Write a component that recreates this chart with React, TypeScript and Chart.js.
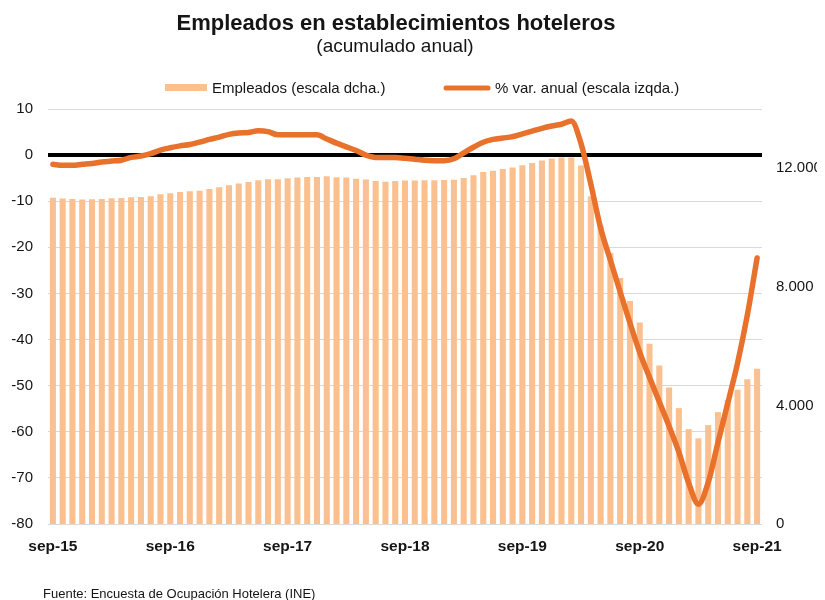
import React, { useEffect, useRef } from "react";
import { Chart, registerables } from "chart.js";

Chart.register(...registerables);

const FONT = "'Liberation Sans', Arial, Helvetica, sans-serif";

const TITLE = "Empleados en establecimientos hoteleros";
const SUBTITLE = "(acumulado anual)";
const LEGEND_BARS = "Empleados (escala dcha.)";
const LEGEND_LINE = "% var. anual (escala izqda.)";
const SOURCE = "Fuente: Encuesta de Ocupación Hotelera (INE)";

const MONTHS = [
  "sep-15", "oct-15", "nov-15", "dic-15",
  "ene-16", "feb-16", "mar-16", "abr-16", "may-16", "jun-16", "jul-16", "ago-16", "sep-16", "oct-16", "nov-16", "dic-16",
  "ene-17", "feb-17", "mar-17", "abr-17", "may-17", "jun-17", "jul-17", "ago-17", "sep-17", "oct-17", "nov-17", "dic-17",
  "ene-18", "feb-18", "mar-18", "abr-18", "may-18", "jun-18", "jul-18", "ago-18", "sep-18", "oct-18", "nov-18", "dic-18",
  "ene-19", "feb-19", "mar-19", "abr-19", "may-19", "jun-19", "jul-19", "ago-19", "sep-19", "oct-19", "nov-19", "dic-19",
  "ene-20", "feb-20", "mar-20", "abr-20", "may-20", "jun-20", "jul-20", "ago-20", "sep-20", "oct-20", "nov-20", "dic-20",
  "ene-21", "feb-21", "mar-21", "abr-21", "may-21", "jun-21", "jul-21", "ago-21", "sep-21",
];

// Empleados (escala dcha.)
const EMPLEADOS = [
  11010, 10980, 10960, 10945, 10955, 10965, 10990, 11000, 11020, 11030, 11055, 11120,
  11155, 11200, 11225, 11245, 11300, 11360, 11425, 11485, 11535, 11595, 11630, 11630,
  11660, 11685, 11705, 11705, 11730, 11695, 11685, 11650, 11620, 11570, 11550, 11570,
  11585, 11585, 11595, 11595, 11605, 11615, 11670, 11765, 11875, 11920, 11975, 12030,
  12100, 12175, 12260, 12330, 12360, 12360, 12090, 11055, 10050, 9145, 8300, 7520,
  6800, 6080, 5350, 4605, 3910, 3200, 2890, 3335, 3775, 4180, 4525, 4885,
  5235,
];

// % var. anual (escala izqda.)
const VAR_ANUAL = [
  -2.0, -2.2, -2.2, -2.0, -1.8, -1.5, -1.3, -1.1, -0.5, -0.2, 0.3, 1.1,
  1.6, 2.0, 2.3, 2.8, 3.4, 3.9, 4.5, 4.8, 4.9, 5.3, 5.1, 4.4,
  4.4, 4.4, 4.4, 4.4, 3.5, 2.6, 1.8, 1.0, 0.0, -0.5, -0.5, -0.5,
  -0.7, -0.9, -1.1, -1.2, -1.2, -0.8, 0.5, 1.7, 2.8, 3.4, 3.7, 4.0,
  4.6, 5.2, 5.8, 6.3, 6.7, 7.4, 2.5, -6.3, -15.8, -22.8, -29.7, -36.4,
  -42.8, -48.2, -53.5, -58.8, -64.4, -71.1, -75.7, -71.0, -62.3, -53.8, -45.1, -34.7,
  -22.3,
];

const LEFT_MIN = -80;
const LEFT_MAX = 10;
const LEFT_STEP = 10;
const RIGHT_MIN = 0;
const RIGHT_MAX = 14000;
const RIGHT_TICKS = [0, 4000, 8000, 12000];

const BAR_COLOR = "#FAC090";
const LINE_COLOR = "#E8712B";
const TEXT_COLOR = "#151515";

function fmtThousands(v: number): string {
  if (v === 0) return "0";
  const s = Math.round(v).toString();
  return s.replace(/\B(?=(\d{3})+(?!\d))/g, ".");
}

const overlayPlugin = {
  id: "overlay",
  afterDraw(chart: any) {
    const ctx: CanvasRenderingContext2D = chart.ctx;
    ctx.save();
    ctx.fillStyle = TEXT_COLOR;
    ctx.textBaseline = "alphabetic";
    ctx.textAlign = "center";
    ctx.font = `bold 22px ${FONT}`;
    ctx.fillText(TITLE, 396, 30);
    ctx.font = `19px ${FONT}`;
    ctx.fillText(SUBTITLE, 395, 52);

    // legend
    ctx.fillStyle = BAR_COLOR;
    ctx.fillRect(165, 84, 42, 7);
    ctx.fillStyle = TEXT_COLOR;
    ctx.textAlign = "left";
    ctx.font = `15px ${FONT}`;
    ctx.fillText(LEGEND_BARS, 212, 93);
    ctx.strokeStyle = LINE_COLOR;
    ctx.lineWidth = 5;
    ctx.lineCap = "round";
    ctx.beginPath();
    ctx.moveTo(446, 88);
    ctx.lineTo(488, 88);
    ctx.stroke();
    ctx.fillText(LEGEND_LINE, 495, 93);

    ctx.font = `13px ${FONT}`;
    ctx.fillText(SOURCE, 43, 598);
    ctx.restore();
  },
};

export default function App() {
  const canvasRef = useRef<HTMLCanvasElement | null>(null);

  useEffect(() => {
    if (!canvasRef.current) return;
    const chart = new Chart(canvasRef.current, {
      type: "bar",
      data: {
        labels: MONTHS,
        datasets: [
          {
            type: "line",
            label: LEGEND_LINE,
            data: VAR_ANUAL,
            yAxisID: "y",
            borderColor: LINE_COLOR,
            backgroundColor: LINE_COLOR,
            borderWidth: 5.5,
            pointRadius: 0,
            pointHoverRadius: 0,
            cubicInterpolationMode: "monotone",
            borderCapStyle: "round",
            borderJoinStyle: "round",
            fill: false,
            order: 0,
          } as any,
          {
            type: "bar",
            label: LEGEND_BARS,
            data: EMPLEADOS,
            yAxisID: "y1",
            backgroundColor: BAR_COLOR,
            borderWidth: 0,
            categoryPercentage: 1,
            barPercentage: 0.62,
            order: 1,
          } as any,
        ],
      },
      options: {
        responsive: false,
        animation: false,
        events: [],
        layout: { padding: { left: 8, right: 8, top: 109, bottom: 36 } },
        plugins: {
          legend: { display: false },
          title: { display: false },
          tooltip: { enabled: false },
        },
        scales: {
          x: {
            offset: true,
            grid: { display: false, drawTicks: false },
            border: { display: false },
            ticks: {
              autoSkip: false,
              maxRotation: 0,
              minRotation: 0,
              padding: 13,
              color: TEXT_COLOR,
              font: { family: FONT, size: 15.5, weight: "bold" },
              callback: (_v: any, i: number) => (i % 12 === 0 ? MONTHS[i] : ""),
            },
            afterFit: (s: any) => {
              s.height = 40;
            },
          },
          y: {
            position: "left",
            min: LEFT_MIN,
            max: LEFT_MAX,
            border: { display: false },
            grid: {
              drawTicks: false,
              color: (c: any) => (c.tick && c.tick.value === 0 ? "#000000" : "#d9d9d9"),
              lineWidth: (c: any) => (c.tick && c.tick.value === 0 ? 4 : 1),
            },
            ticks: {
              stepSize: LEFT_STEP,
              padding: 15,
              color: TEXT_COLOR,
              font: { family: FONT, size: 15 },
              callback: (v: any) => String(v),
            },
            afterFit: (s: any) => {
              s.width = 40;
            },
          },
          y1: {
            position: "right",
            min: RIGHT_MIN,
            max: RIGHT_MAX,
            border: { display: false },
            grid: { display: false, drawTicks: false },
            afterBuildTicks: (s: any) => {
              s.ticks = RIGHT_TICKS.map((v) => ({ value: v }));
            },
            ticks: {
              padding: 14,
              color: TEXT_COLOR,
              font: { family: FONT, size: 15 },
              callback: (v: any) => fmtThousands(Number(v)),
            },
            afterFit: (s: any) => {
              s.width = 55;
            },
          },
        },
      } as any,
      plugins: [overlayPlugin],
    });
    return () => chart.destroy();
  }, []);

  return (
    <div style={{ position: "absolute", left: 0, top: 0, width: 825, height: 600, background: "#fff" }}>
      <canvas ref={canvasRef} width={825} height={600} style={{ width: 825, height: 600, display: "block" }} />
    </div>
  );
}
